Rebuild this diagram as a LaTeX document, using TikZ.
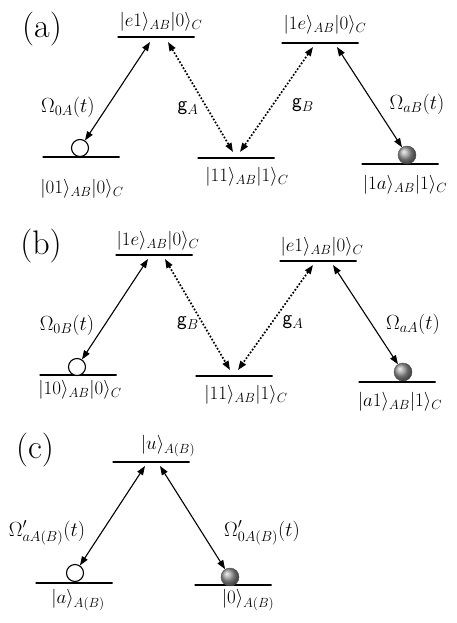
\RequirePackage{fix-cm}
\documentclass[tikz,border=0pt]{standalone}
\usetikzlibrary{arrows.meta,calc}

\begin{document}
\begin{tikzpicture}[x=1pt,y=-1pt,>={Triangle[length=9pt,width=6.5pt]},
 lv/.style={draw,line width=1.4pt,minimum width=77pt,minimum height=0pt,inner sep=0pt},
 up/.style={circle,draw,line width=1.1pt,fill=white,minimum size=17pt,inner sep=0pt},
 dn/.style={circle,draw=black!70,thin,ball color=black!40,minimum size=18pt,inner sep=0pt},
 la/.style={<->,line width=1.1pt},
 lb/.style={<->,line width=1.7pt,dash pattern=on 1.7pt off 1.8pt},
 kt/.style={font=\fontsize{19}{21}\selectfont},
 rl/.style={font=\fontsize{20.5}{23}\selectfont},
 tag/.style={font=\fontsize{34}{36}\selectfont}]
\useasboundingbox (0,0) rectangle (457,623);
\node[tag] (pa) at (42,29) {(a)};
\node[lv] (aE1) at (156,37) {};
\node[lv] (aE2) at (320,43) {};
\node[lv] (aG1) at (81,157) {};
\node[lv] (aG2) at (236,158) {};
\node[lv] (aG3) at (400,164) {};
\node[kt] (kaE1) at (161,22) {$|e1\rangle_{AB}|0\rangle_C$};
\node[kt] (kaE2) at (325,25) {$|1e\rangle_{AB}|0\rangle_C$};
\node[kt] (kaG1) at (82,189) {$|01\rangle_{AB}|0\rangle_C$};
\node[kt] (kaG2) at (247,177) {$|11\rangle_{AB}|1\rangle_C$};
\node[kt] (kaG3) at (405,185) {$|1a\rangle_{AB}|1\rangle_C$};
\node[up] (aC1) at (80,148) {};
\node[dn] (aB3) at (407,155) {};
\draw[la] ($(aE1)+(-6,5)$) -- (aC1);
\draw[lb] ($(aE1)+(12,5)$) -- ($(aG2)+(-3,-6)$);
\draw[lb] ($(aE2)+(-7,4)$) -- ($(aG2)+(4,-6)$);
\draw[la] ($(aE2)+(17,4)$) -- (aB3);
\node[rl] (oa1) at (68,107) {$\Omega_{0A}(t)$};
\node[rl] (ga1) at (188,108) {$\textsf{g}_A$};
\node[rl] (ga2) at (303,105) {$\textsf{g}_B$};
\node[rl] (oa2) at (417,104) {$\Omega_{aB}(t)$};
\node[tag] (pb) at (41,246) {(b)};
\node[lv] (bE1) at (154,255) {};
\node[lv] (bE2) at (318,261) {};
\node[lv] (bG1) at (78,375) {};
\node[lv] (bG2) at (234,376) {};
\node[lv] (bG3) at (397,382) {};
\node[kt] (kbE1) at (158,241) {$|1e\rangle_{AB}|0\rangle_C$};
\node[kt] (kbE2) at (322,247) {$|e1\rangle_{AB}|0\rangle_C$};
\node[kt] (kbG1) at (80,390) {$|10\rangle_{AB}|0\rangle_C$};
\node[kt] (kbG2) at (246,395) {$|11\rangle_{AB}|1\rangle_C$};
\node[kt] (kbG3) at (400,402) {$|a1\rangle_{AB}|1\rangle_C$};
\node[up] (bC1) at (77,367) {};
\node[dn] (bB3) at (403,372) {};
\draw[la] ($(bE1)+(-6,4)$) -- (bC1);
\draw[lb] ($(bE1)+(11,4)$) -- ($(bG2)+(-4,-6)$);
\draw[lb] ($(bE2)+(-5,4)$) -- ($(bG2)+(4,-6)$);
\draw[la] ($(bE2)+(15,4)$) -- (bB3);
\node[rl] (ob1) at (67,325) {$\Omega_{0B}(t)$};
\node[rl] (gb1) at (188,323) {$\textsf{g}_B$};
\node[rl] (gb2) at (293,322) {$\textsf{g}_A$};
\node[rl] (ob2) at (413,324) {$\Omega_{aA}(t)$};
\node[tag] (pc) at (35,450) {(c)};
\node[lv] (cE) at (151,462) {};
\node[lv] (cG1) at (74,583) {};
\node[lv] (cG2) at (233,585) {};
\node[kt] (kcE) at (168,446) {$|u\rangle_{A(B)}$};
\node[kt] (kcG1) at (78,600) {$|a\rangle_{A(B)}$};
\node[kt] (kcG2) at (248,600) {$|0\rangle_{A(B)}$};
\node[up] (cC1) at (75,573) {};
\node[dn] (cB2) at (230,577) {};
\draw[la] ($(cE)+(-6,4)$) -- (cC1);
\draw[la] ($(cE)+(9,4)$) -- (cB2);
\node[rl] (oc1) at (47,533) {$\Omega^{\prime}_{aA(B)}(t)$};
\node[rl] (oc2) at (262,533) {$\Omega^{\prime}_{0A(B)}(t)$};
\end{tikzpicture}
\end{document}
